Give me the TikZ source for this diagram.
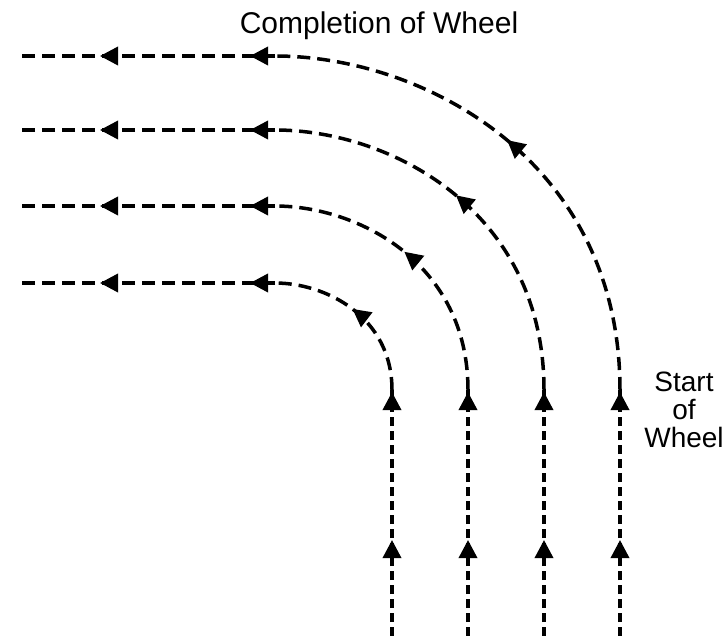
\documentclass[tikz,border=0pt]{standalone}
\usepackage{fontspec}
\setmainfont{Liberation Sans}
\usetikzlibrary{arrows.meta,decorations.markings}
\tikzset{
  flowtip/.tip={Triangle[length=18pt,width=18pt]},
  flowline/.style={line width=3.5pt, dash pattern=on 13pt off 7pt},
  vline/.style={line width=3.5pt, dash pattern=on 9pt off 5pt},
  vmarks/.style={postaction={decorate, decoration={markings,
      mark=at position 96pt with {\arrow{flowtip}},
      mark=at position 244pt with {\arrow{flowtip}}}}},
  cmarks/.style={postaction={decorate, decoration={markings,
      mark=at position 0.53 with {\arrow{flowtip}}}}},
  hmarks/.style={postaction={decorate, decoration={markings,
      mark=at position 25pt with {\arrow{flowtip}},
      mark=at position 175pt with {\arrow{flowtip}}}}},
  labeltext/.style={inner sep=0pt, text=black}
}
\begin{document}
\begin{tikzpicture}[x=1pt,y=-1pt]
\useasboundingbox (0,0) rectangle (728,636);
\foreach \i/\x/\y/\ha/\hb in {1/392/283/50/74, 2/468/206/83/127, 3/544/130/116/179, 4/620/56/148/230} {
  \coordinate (b\i) at (\x,636);
  \coordinate (j\i) at (\x,390);
  \coordinate (k\i) at (275,\y);
  \coordinate (e\i) at (15,\y);
  \draw[vline, vmarks] (b\i) -- (j\i);
  \draw[flowline, cmarks] (j\i) .. controls +(0,-\hb) and +(\ha,0) .. (k\i);
  \draw[flowline, hmarks] (k\i) -- (e\i);
}
\node[labeltext, font=\fontsize{30}{30}\selectfont, anchor=base] (title) at (379,34) {Completion of Wheel};
\node[labeltext, font=\fontsize{28}{28}\selectfont, align=center, anchor=base] (start) at (684,447) {Start\\of\\Wheel};
\end{tikzpicture}
\end{document}
